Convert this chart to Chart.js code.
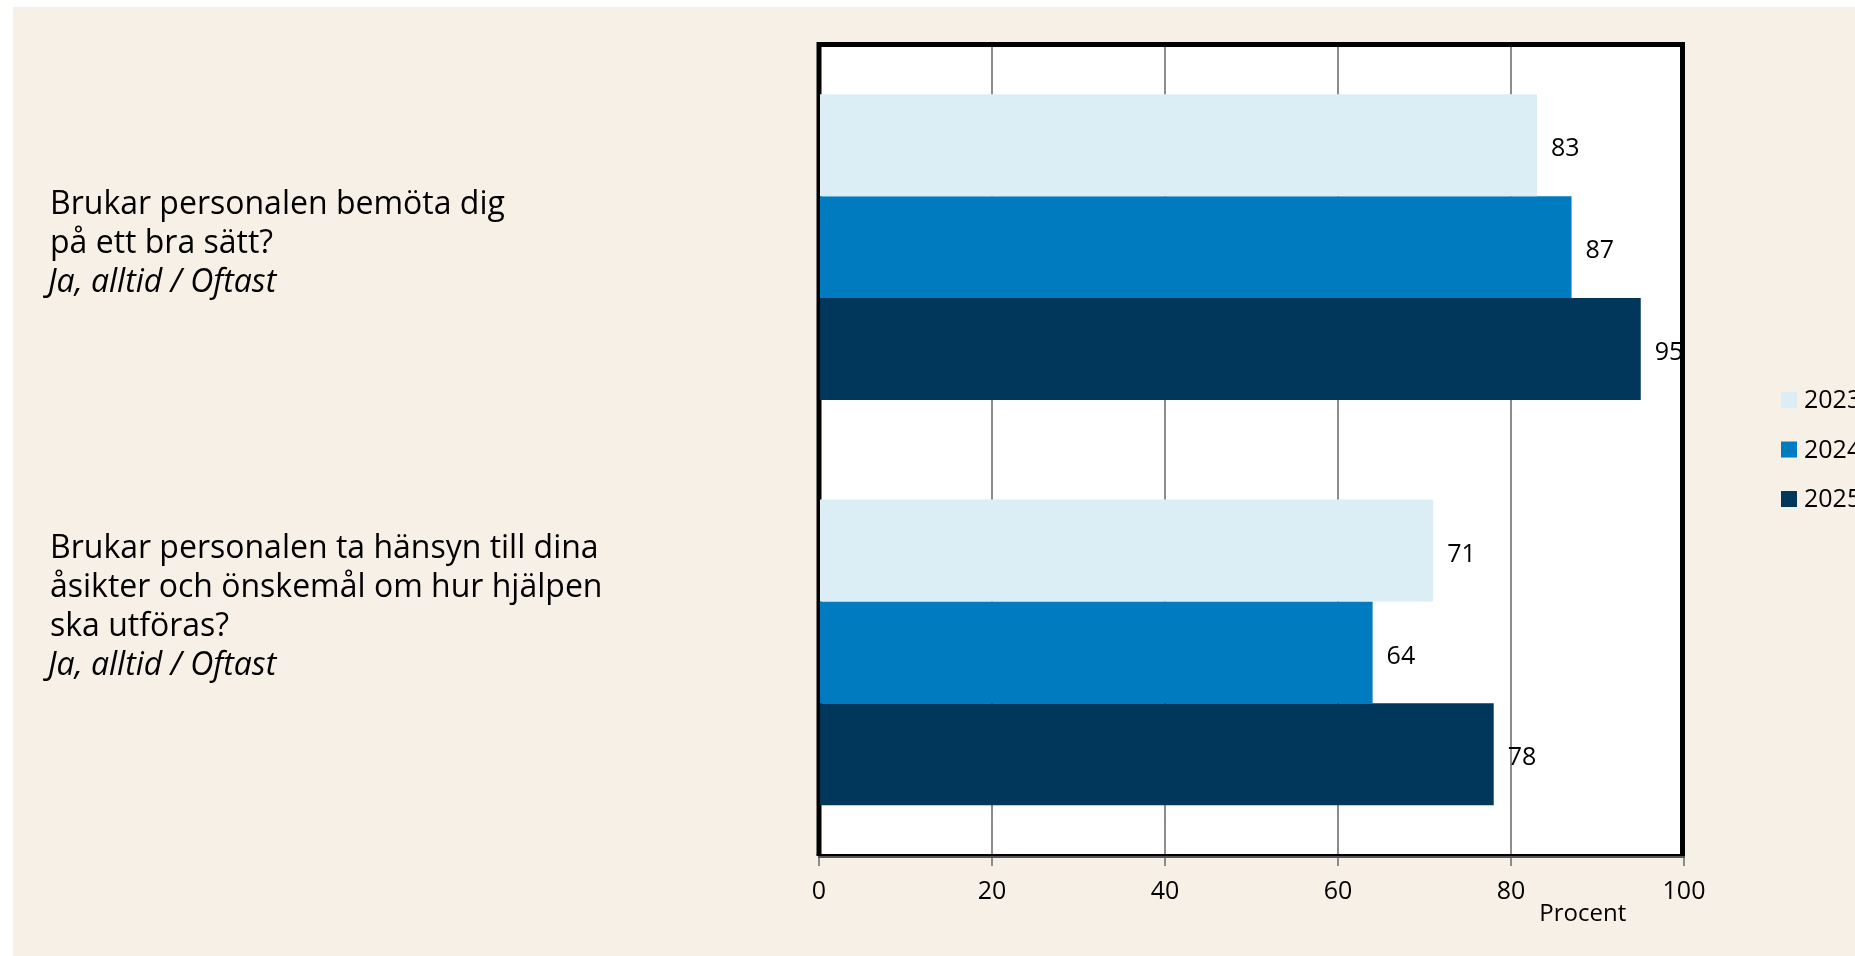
<!DOCTYPE html>
<html><head><meta charset="utf-8">
<script src="https://cdn.jsdelivr.net/npm/chart.js@4/dist/chart.umd.min.js"></script>
<style>html,body{margin:0;padding:0;background:#fff;overflow:hidden}
#wrap{position:absolute;left:0;top:0;width:1855px;height:956px}</style>
</head><body><div id="wrap"><canvas id="c" width="1855" height="956"></canvas></div>
<script>
// ---- data ----
const categories = ['Bemötande', 'Hänsyn'];
const questionLines = [
  ["Brukar personalen bemöta dig", "på ett bra sätt?"],
  ["Brukar personalen ta hänsyn till dina", "åsikter och önskemål om hur hjälpen", "ska utföras?"]
];
const answerLabel = "Ja, alltid / Oftast";
const seriesNames = ['2023', '2024', '2025'];
const values2023 = [83, 71];
const values2024 = [87, 64];
const values2025 = [95, 78];
const xTickValues = [0, 20, 40, 60, 80, 100];
const axisTitle = 'Procent';
const seriesColors = ['#DCEEF5', '#007BC0', '#00375A'];

const FONT = "'Open Sans', 'Noto Sans', sans-serif";
const BEIGE = '#F7F0E6';
const GRID = '#8C8C8C';

const decor = {
  id: 'decor',
  beforeDraw(chart) {
    const ctx = chart.ctx;
    ctx.save();
    ctx.fillStyle = '#ffffff';
    ctx.fillRect(0, 0, chart.width, chart.height);
    ctx.fillStyle = BEIGE;
    ctx.fillRect(13, 7, chart.width - 13, chart.height - 7);
    const a = chart.chartArea;
    ctx.fillStyle = '#ffffff';
    ctx.fillRect(a.left, a.top, a.right - a.left, a.bottom - a.top);
    ctx.restore();
  },
  beforeDatasetsDraw(chart) {
    const ctx = chart.ctx;
    const a = chart.chartArea;
    const xs = chart.scales.x, ys = chart.scales.y;
    ctx.save();
    // value labels
    ctx.fillStyle = '#000';
    ctx.font = '25px ' + FONT;
    ctx.textAlign = 'left';
    ctx.textBaseline = 'middle';
    chart.data.datasets.forEach((ds, di) => {
      const meta = chart.getDatasetMeta(di);
      meta.data.forEach((el, i) => {
        ctx.fillText(String(ds.data[i]), el.x + 14, el.y + 4);
      });
    });
    // frame
    ctx.strokeStyle = '#000';
    ctx.lineWidth = 5;
    ctx.beginPath();
    ctx.moveTo(a.left, a.bottom);
    ctx.lineTo(a.left, a.top);
    ctx.lineTo(a.right - 1.5, a.top);
    ctx.lineTo(a.right - 1.5, a.bottom);
    ctx.stroke();
    ctx.lineWidth = 2;
    ctx.beginPath();
    ctx.moveTo(a.left - 2.5, a.bottom);
    ctx.lineTo(a.right + 1, a.bottom);
    ctx.stroke();
    ctx.strokeStyle = '#555';
    ctx.beginPath();
    ctx.moveTo(a.left - 1, a.bottom + 2);
    ctx.lineTo(a.right + 1, a.bottom + 2);
    ctx.stroke();
    // question labels
    ctx.fillStyle = '#000';
    ctx.textBaseline = 'alphabetic';
    ctx.textAlign = 'left';
    const firstOffsets = [-33, -94];
    questionLines.forEach((lines, i) => {
      const cy = ys.getPixelForValue(i);
      let y = cy + firstOffsets[i];
      ctx.font = '32px ' + FONT;
      lines.forEach(l => { ctx.fillText(l, 50, y); y += 38.8; });
      ctx.font = 'italic 32px ' + FONT;
      ctx.fillText(answerLabel, 48, y);
    });
    // axis title
    ctx.font = '24px ' + FONT;
    ctx.textAlign = 'center';
    ctx.textBaseline = 'middle';
    ctx.fillText(axisTitle, xs.getPixelForValue(88.3), a.bottom + 59);
    // legend
    ctx.textAlign = 'left';
    ctx.font = '25px ' + FONT;
    const lx = a.right + 97;
    chart.data.datasets.forEach((ds, di) => {
      const cy = 400 + di * 49.5;
      ctx.fillStyle = ds.backgroundColor;
      ctx.fillRect(lx, cy - 8, 16, 16);
      ctx.fillStyle = '#000';
      ctx.fillText(ds.label, lx + 23, cy + 1);
    });
    ctx.restore();
  }
};

new Chart(document.getElementById('c'), {
  type: 'bar',
  data: {
    labels: categories,
    datasets: [
      { label: seriesNames[0], data: values2023, backgroundColor: seriesColors[0] },
      { label: seriesNames[1], data: values2024, backgroundColor: seriesColors[1] },
      { label: seriesNames[2], data: values2025, backgroundColor: seriesColors[2] }
    ]
  },
  options: {
    indexAxis: 'y',
    responsive: false,
    devicePixelRatio: 1,
    animation: false,
    layout: { padding: { left: 819, right: 171, top: 44.5, bottom: 0 } },
    datasets: { bar: { categoryPercentage: 0.754, barPercentage: 1, borderWidth: 0 } },
    plugins: { legend: { display: false }, tooltip: { enabled: false } },
    scales: {
      x: {
        min: 0, max: 100,
        afterBuildTicks: s => { s.ticks = xTickValues.map(v => ({ value: v })); },
        afterFit: s => { s.height = 101; },
        ticks: { color: '#000', font: { family: FONT, size: 25 }, padding: 11, maxRotation: 0 },
        grid: { color: GRID, lineWidth: 2, tickLength: 11, drawOnChartArea: true },
        border: { display: false }
      },
      y: { display: false }
    }
  },
  plugins: [decor]
});
</script></body></html>
